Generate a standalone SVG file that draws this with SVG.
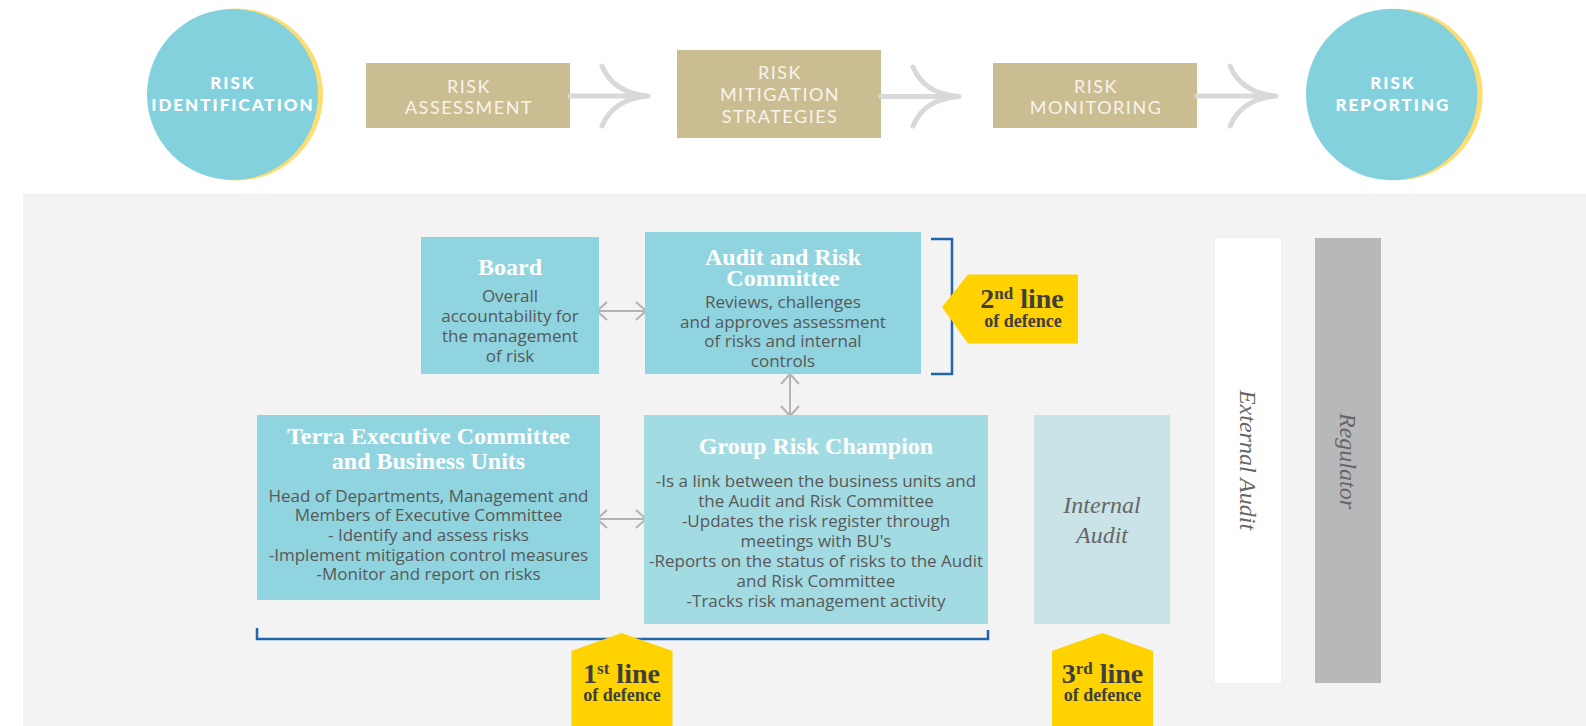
<svg xmlns="http://www.w3.org/2000/svg" width="1586" height="726" viewBox="0 0 1586 726">
  <style>
    .circ { fill: #84D1DE; }
    .circ-edge { fill: #FDDD70; }
    .circ-txt { font-family: Lato, "Open Sans", sans-serif; font-weight: 900; font-size: 17px; letter-spacing: 2px; fill: #FFFFFF; text-anchor: middle; }
    .step { fill: #CBBD92; }
    .step-txt { font-family: Lato, "Open Sans", sans-serif; font-size: 18px; letter-spacing: 1.5px; fill: #F7F4EC; text-anchor: middle; }
    .flow { fill: none; stroke: #D9D9DA; stroke-width: 5; stroke-linecap: round; }
    .box { fill: #8FD4DF; }
    .box-light { fill: #A3DBE3; }
    .title { font-family: "Liberation Serif", "Times New Roman", serif; font-weight: 700; font-size: 24px; fill: #FFFFFF; text-anchor: middle; }
    .body { font-family: "Open Sans", "Liberation Sans", sans-serif; font-size: 17px; fill: #585858; text-anchor: middle; }
    .side { font-family: "Liberation Serif", "Times New Roman", serif; font-style: italic; font-size: 24px; fill: #666666; text-anchor: middle; }
    .link { fill: none; stroke: #B3B3B3; stroke-width: 2; }
    .bracket { fill: none; stroke: #2166AC; stroke-width: 2.5; }
    .tag { fill: #FFD200; }
    .tag-big { font-family: "Liberation Serif", "Times New Roman", serif; font-weight: 700; font-size: 28px; fill: #3F3F3F; text-anchor: middle; }
    .tag-small { font-family: "Liberation Serif", "Times New Roman", serif; font-weight: 700; font-size: 18px; fill: #3F3F3F; text-anchor: middle; }
  </style>
  <defs>
    <marker id="chev" viewBox="0 0 12 20" refX="11" refY="10" markerWidth="12" markerHeight="20" markerUnits="userSpaceOnUse" orient="auto-start-reverse">
      <path d="M1,1 L11,10 L1,19" fill="none" stroke="#B3B3B3" stroke-width="2"/>
    </marker>
  </defs>

  <!-- top process flow -->
  <g id="risk-identification">
    <circle class="circ-edge" cx="237" cy="94.5" r="86"/>
    <circle class="circ" cx="232.5" cy="94.5" r="85.5"/>
    <text class="circ-txt" x="233" y="89">RISK</text>
    <text class="circ-txt" x="233" y="111">IDENTIFICATION</text>
  </g>
  <g id="risk-assessment">
    <rect class="step" x="366" y="63" width="204" height="65"/>
    <text class="step-txt" x="469" y="92.5">RISK</text>
    <text class="step-txt" x="469" y="113.5">ASSESSMENT</text>
  </g>
  <g id="risk-mitigation">
    <rect class="step" x="677" y="50" width="204" height="88"/>
    <text class="step-txt" x="780" y="78.5">RISK</text>
    <text class="step-txt" x="780" y="100.5">MITIGATION</text>
    <text class="step-txt" x="780" y="122.5">STRATEGIES</text>
  </g>
  <g id="risk-monitoring">
    <rect class="step" x="993" y="63" width="204" height="65"/>
    <text class="step-txt" x="1096" y="92.5">RISK</text>
    <text class="step-txt" x="1096" y="113.5">MONITORING</text>
  </g>
  <g id="risk-reporting">
    <circle class="circ-edge" cx="1397" cy="94.5" r="85.7"/>
    <circle class="circ" cx="1391.7" cy="94.5" r="85.7"/>
    <text class="circ-txt" x="1393" y="89">RISK</text>
    <text class="circ-txt" x="1393" y="111">REPORTING</text>
  </g>
  <g id="flow-arrows">
    <path class="flow" d="M570,96 H648 M602,66 C610,85 625,94 648,96 C625,98 610,107 602,126"/>
    <path class="flow" d="M881,96.5 H959 M913,67 C921,86 936,94.5 959,96.5 C936,98.5 921,107 913,126"/>
    <path class="flow" d="M1197,96 H1276 M1230,66 C1238,85 1253,94 1276,96 C1253,98 1238,107 1230,126"/>
  </g>

  <!-- lines of defence panel -->
  <rect x="23" y="194" width="1563" height="532" fill="#F3F3F3"/>

  <g id="connectors">
    <path class="link" d="M597,311 H646" marker-start="url(#chev)" marker-end="url(#chev)"/>
    <path class="link" d="M597,519 H646" marker-start="url(#chev)" marker-end="url(#chev)"/>
    <path class="link" d="M790,374 V416" marker-start="url(#chev)" marker-end="url(#chev)"/>
    <path class="bracket" d="M931,239 H952 V374 H931"/>
    <path class="bracket" d="M257,628 V639 H988 V630"/>
  </g>

  <g id="board">
    <rect class="box" x="421" y="237" width="178" height="137"/>
    <text class="title" x="510" y="275">Board</text>
    <text class="body" x="510" y="302.3">Overall</text>
    <text class="body" x="510" y="322.1">accountability for</text>
    <text class="body" x="510" y="341.9">the management</text>
    <text class="body" x="510" y="361.7">of risk</text>
  </g>

  <g id="audit-risk-committee">
    <rect class="box" x="645" y="232" width="276" height="142"/>
    <text class="title" x="783" y="264.5">Audit and Risk</text>
    <text class="title" x="783" y="285.5">Committee</text>
    <text class="body" x="783" y="308.3">Reviews, challenges</text>
    <text class="body" x="783" y="327.8">and approves assessment</text>
    <text class="body" x="783" y="347.3">of risks and internal</text>
    <text class="body" x="783" y="366.8">controls</text>
  </g>

  <g id="terra-exco">
    <rect class="box" x="257" y="415" width="343" height="185"/>
    <text class="title" x="428.5" y="444">Terra Executive Committee</text>
    <text class="title" x="428.5" y="469">and Business Units</text>
    <text class="body" x="428.5" y="501.7">Head of Departments, Management and</text>
    <text class="body" x="428.5" y="521.3">Members of Executive Committee</text>
    <text class="body" x="428.5" y="540.9">- Identify and assess risks</text>
    <text class="body" x="428.5" y="560.5">-Implement mitigation control measures</text>
    <text class="body" x="428.5" y="580.1">-Monitor and report on risks</text>
  </g>

  <g id="group-risk-champion">
    <rect class="box-light" x="644" y="415" width="344" height="209"/>
    <text class="title" x="816" y="454">Group Risk Champion</text>
    <text class="body" x="816" y="487.3">-Is a link between the business units and</text>
    <text class="body" x="816" y="507.2">the Audit and Risk Committee</text>
    <text class="body" x="816" y="527.1">-Updates the risk register through</text>
    <text class="body" x="816" y="547">meetings with BU's</text>
    <text class="body" x="816" y="566.9">-Reports on the status of risks to the Audit</text>
    <text class="body" x="816" y="586.8">and Risk Committee</text>
    <text class="body" x="816" y="606.7">-Tracks risk management activity</text>
  </g>

  <g id="internal-audit">
    <rect x="1034" y="415" width="136" height="209" fill="#C9E3E7"/>
    <text class="side" x="1102" y="513.3">Internal</text>
    <text class="side" x="1102" y="542.7">Audit</text>
  </g>

  <g id="external-audit">
    <rect x="1215" y="238" width="66" height="445" fill="#FFFFFF"/>
    <text class="side" transform="translate(1240,460) rotate(90)">External Audit</text>
  </g>

  <g id="regulator">
    <rect x="1315" y="238" width="66" height="445" fill="#B7B8BA"/>
    <text class="side" transform="translate(1340,461) rotate(90)">Regulator</text>
  </g>

  <g id="second-line">
    <polygon class="tag" points="942,307 968,274.5 1078,274.5 1078,343.5 968,343.5"/>
    <text class="tag-big" x="1022" y="308.3">2<tspan font-size="17" dy="-9">nd</tspan><tspan dy="9"> line</tspan></text>
    <text class="tag-small" x="1023" y="326.7">of defence</text>
  </g>

  <g id="first-line">
    <polygon class="tag" points="571.5,651 621.5,633 672.5,651 672.5,726 571.5,726"/>
    <text class="tag-big" x="621.5" y="682.7">1<tspan font-size="17" dy="-9">st</tspan><tspan dy="9"> line</tspan></text>
    <text class="tag-small" x="622" y="701">of defence</text>
  </g>

  <g id="third-line">
    <polygon class="tag" points="1052,651 1102.5,633 1153,651 1153,726 1052,726"/>
    <text class="tag-big" x="1102.5" y="682.7">3<tspan font-size="17" dy="-9">rd</tspan><tspan dy="9"> line</tspan></text>
    <text class="tag-small" x="1102.5" y="701">of defence</text>
  </g>
</svg>
